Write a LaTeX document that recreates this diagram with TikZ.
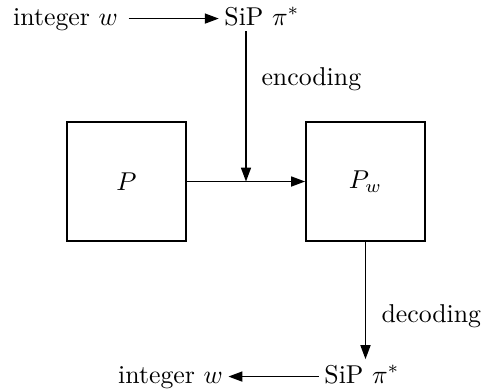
\documentclass[tikz,border=0pt]{standalone}
\usetikzlibrary{arrows.meta,calc}
\begin{document}
\begin{tikzpicture}[x=0.3876pt,y=-0.3876pt,
  txt/.style={inner sep=2pt,anchor=base},
  blk/.style={draw,line width=0.85pt,minimum size=46pt,inner sep=0pt},
  arr/.style={line width=0.55pt,-{Triangle[length=5.4pt,width=3.9pt]}}]
\useasboundingbox (0,0) rectangle (482,391);
\node[txt] (int1) at (65.5,25) {integer $w$};
\node[txt] (sip1) at (262,25) {SiP~$\pi^*$};
\node[blk] (P) at (126.5,181.5) {$P$};
\node[blk] (Pw) at (365.5,181.5) {$P_w$};
\node[txt,anchor=base west,inner sep=0pt] (enc) at (261,85) {encoding};
\node[txt,anchor=base west,inner sep=0pt] (dec) at (381,322) {decoding};
\node[txt] (sip2) at (362,383) {SiP~$\pi^*$};
\node[txt] (int2) at (170.5,383) {integer $w$};
\coordinate (mid) at ($(P.east)!0.5!(Pw.west)$);
\draw[arr] ([xshift=2pt,yshift=2.5pt]int1.base east) -- ([yshift=2.5pt]sip1.base west);
\draw[arr] (sip1.south -| mid) -- (mid);
\draw[arr] (P.east) -- (Pw.west);
\draw[arr] (Pw.south) -- (Pw.south |- sip2.north);
\draw[arr] ([yshift=2.5pt]sip2.base west) -- ([yshift=2.5pt]int2.base east);
\end{tikzpicture}
\end{document}
